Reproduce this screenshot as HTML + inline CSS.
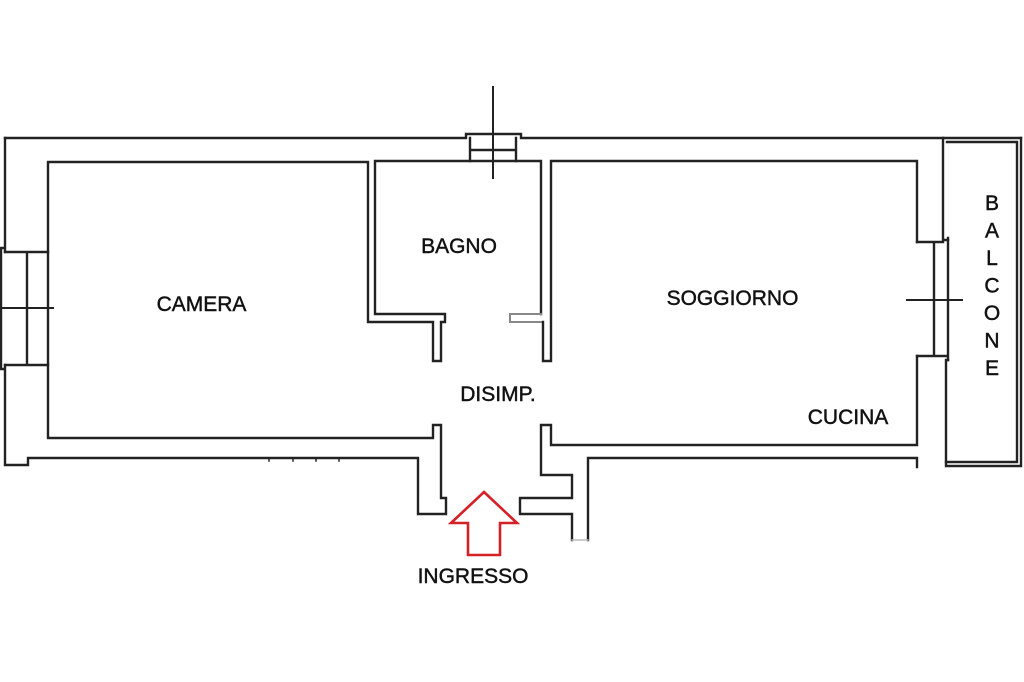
<!DOCTYPE html>
<html>
<head>
<meta charset="utf-8">
<style>
  html, body { margin: 0; padding: 0; background: #ffffff; }
  svg { display: block; }
  text { font-family: "Liberation Sans", Arial, sans-serif; fill: #111; font-size: 21px; stroke: #111; stroke-width: 0.45px; }
</style>
</head>
<body>
<svg width="1024" height="682" viewBox="0 0 1024 682" xmlns="http://www.w3.org/2000/svg">
  <g fill="none" stroke="#222" stroke-width="2.4" stroke-linejoin="miter" stroke-linecap="square">
    <!-- top outer line with vent -->
    <path d="M5,138 H466 V134 H521 V138 H1021"/>
    <!-- vent details -->
    <path d="M470,138 V161 M516,138 V161 M470,150 H516"/>
    <path d="M493,87 V178" stroke-width="2"/>

    <!-- left outer wall + camera + bagno + left part of disimpegno -->
    <path d="M5,138 V252 M1,248 H5 M1,248 V369 H5 M5,365 V465 H28 V458 H418 V514 H446 V498 H441 V425 H433 V438 H48 V162 H368 V322 H433 V361 H441 V322 H445 V314 H375 V161 H541 V314"/>
    <!-- camera window -->
    <path d="M5,252 H48 M5,365 H48 M27,252 V365"/>
    <path d="M0,308 H53" stroke-width="2"/>

    <!-- bagno right wall return (faded) -->
    <path d="M541,314 H510 V322 H543" stroke="#888" stroke-width="2"/>
    <path d="M543,322 V361 H551 V161 H917 V242"/>

    <!-- soggiorno window -->
    <path d="M917,242 H943 M917,356 H946 M934,242 V356 M948,238 V360"/>
    <path d="M943,138 V240 H948"/>
    <path d="M907,300 H962" stroke-width="2"/>

    <!-- soggiorno / cucina lower walls -->
    <path d="M917,356 V445 H551 V425 H541 V475 H572 V498 H520 V514 H572 V540"/>
    <path d="M588,540 V458 H917 V467"/>
    <path d="M572,540 H588" stroke="#bbb" stroke-width="1.5"/>

    <!-- balcony -->
    <path d="M1021,138 V466 H946 V360 H948"/>
    <path d="M947,142 H1017 V462 H946"/>

    <!-- small ticks on bottom wall -->
    <path d="M269,458 V461 M293,458 V461 M316,458 V461 M339,458 V461" stroke-width="1.5"/>
  </g>

  <!-- entrance arrow -->
  <path d="M484,492 L517,523 L500,523 L500,555 L468,555 L468,523 L451,523 Z" fill="none" stroke="#d42027" stroke-width="2.6" stroke-linejoin="miter"/>

  <!-- labels -->
  <text x="201.5" y="311" text-anchor="middle">CAMERA</text>
  <text x="459" y="253" text-anchor="middle">BAGNO</text>
  <text x="732.5" y="305" text-anchor="middle">SOGGIORNO</text>
  <text x="498" y="401" text-anchor="middle">DISIMP.</text>
  <text x="848" y="424" text-anchor="middle">CUCINA</text>
  <text x="473" y="583" text-anchor="middle">INGRESSO</text>

  <text x="992" y="210" text-anchor="middle">B</text>
  <text x="992" y="237.5" text-anchor="middle">A</text>
  <text x="992" y="265" text-anchor="middle">L</text>
  <text x="992" y="292.5" text-anchor="middle">C</text>
  <text x="992" y="320" text-anchor="middle">O</text>
  <text x="992" y="347.5" text-anchor="middle">N</text>
  <text x="992" y="375" text-anchor="middle">E</text>
</svg>
</body>
</html>
